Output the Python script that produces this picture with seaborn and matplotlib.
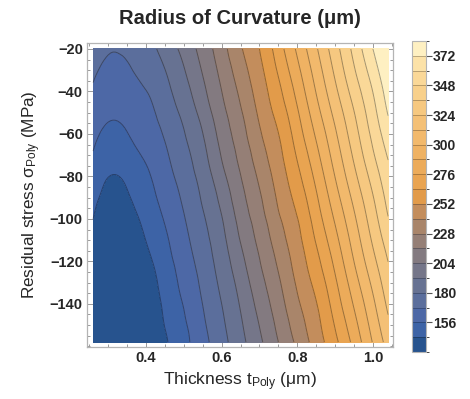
import numpy as np
import matplotlib
matplotlib.use("Agg")
import matplotlib.pyplot as plt
import matplotlib.tri as mtri
import seaborn as sns
from matplotlib.colors import ListedColormap, BoundaryNorm
from matplotlib.ticker import MultipleLocator, FixedLocator
import matplotlib.cm as cm

# ---------------- data ----------------
thickness = [0.26, 0.30, 0.35, 0.40, 0.45, 0.50, 0.55, 0.60, 0.65,
             0.70, 0.75, 0.80, 0.85, 0.90, 0.95, 1.00, 1.04]          # um
stress = [-20, -30, -40, -50, -60, -70, -80, -90, -100,
          -110, -120, -130, -140, -150, -158]                          # MPa
radius = [
    [174.0, 168.8, 170.1, 175.2, 184.5, 195.7, 208.7, 223.1, 238.7, 252.0, 270.2, 290.1, 310.5, 331.1, 351.5, 372.0, 388.0],
    [170.3, 165.1, 166.4, 172.4, 179.8, 191.2, 205.0, 219.5, 234.6, 248.7, 265.6, 284.8, 305.5, 326.4, 346.8, 366.1, 382.9],
    [166.5, 161.5, 162.8, 167.7, 176.4, 187.1, 201.1, 215.9, 230.5, 245.4, 260.9, 279.6, 300.6, 321.2, 341.2, 360.3, 377.8],
    [162.8, 157.8, 159.1, 164.1, 172.8, 183.0, 196.6, 212.2, 226.6, 242.1, 256.4, 274.5, 295.3, 315.6, 335.6, 355.8, 372.8],
    [159.0, 153.6, 155.6, 162.1, 169.1, 179.3, 191.8, 208.5, 222.9, 238.5, 251.8, 269.9, 289.8, 310.2, 330.9, 351.3, 367.1],
    [155.3, 148.9, 150.8, 158.0, 166.1, 176.2, 188.2, 204.8, 219.3, 234.4, 248.5, 265.3, 284.5, 305.3, 326.1, 346.5, 361.2],
    [151.5, 144.2, 146.1, 153.7, 163.1, 173.1, 184.8, 200.2, 215.7, 230.2, 245.2, 260.7, 279.3, 300.3, 320.8, 340.8, 356.4],
    [147.8, 140.2, 142.6, 150.9, 160.0, 170.0, 181.5, 195.5, 212.0, 226.3, 241.9, 256.1, 274.3, 294.9, 315.2, 335.3, 352.0],
    [144.0, 136.2, 138.6, 147.4, 156.9, 167.2, 178.5, 191.3, 208.3, 222.7, 238.2, 251.6, 269.7, 289.5, 309.9, 330.6, 347.4],
    [140.3, 132.2, 134.6, 144.2, 154.0, 164.5, 175.8, 188.3, 204.6, 219.1, 234.1, 248.3, 265.1, 284.2, 305.0, 325.8, 341.7],
    [136.5, 128.2, 130.6, 140.2, 151.3, 161.8, 173.2, 185.5, 200.4, 215.5, 230.0, 245.0, 260.4, 279.0, 300.1, 320.5, 336.1],
    [132.8, 124.2, 126.6, 136.3, 148.8, 159.2, 170.6, 182.7, 196.5, 211.8, 226.1, 241.7, 255.8, 274.0, 294.6, 314.9, 331.3],
    [129.0, 120.2, 122.6, 132.3, 146.6, 156.6, 168.2, 180.0, 193.1, 208.0, 222.5, 238.0, 251.4, 269.4, 289.2, 309.6, 326.6],
    [125.3, 116.2, 118.6, 128.3, 144.5, 154.4, 165.8, 177.7, 190.3, 204.3, 218.9, 233.9, 248.1, 264.8, 283.9, 304.7, 321.4],
    [122.3, 113.2, 115.6, 125.2, 141.8, 152.8, 163.9, 175.8, 188.3, 201.6, 216.0, 230.6, 245.5, 261.1, 279.7, 300.8, 316.9],
]

levels = [132, 144, 156, 168, 180, 192, 204, 216, 228, 240, 252, 264,
          276, 288, 300, 312, 324, 336, 348, 360, 372, 384]
cbar_ticks = [156, 180, 204, 228, 252, 276, 300, 324, 348, 372]
x_ticks = [0.4, 0.6, 0.8, 1.0]
y_ticks = [-140, -120, -100, -80, -60, -40, -20]

band_colors = ["#27538e", "#3d63a6", "#4d68a6", "#5b6e9c", "#677292",
               "#757689", "#837a80", "#957f76", "#a9856a", "#c38d5c",
               "#e29b4a", "#e9a451", "#ecab5a", "#efb263", "#f2b96c",
               "#f4c076", "#f6c880", "#f8d08b", "#fad898", "#fce2a8",
               "#fef0c2"]

# ---------------- style ----------------
sns.set_style("ticks")
plt.rcParams["font.family"] = ["Liberation Sans", "DejaVu Sans"]
plt.rcParams["mathtext.fontset"] = "custom"
plt.rcParams["mathtext.rm"] = "Liberation Sans"
plt.rcParams["mathtext.it"] = "Liberation Sans:italic"
plt.rcParams["mathtext.bf"] = "Liberation Sans:bold"

fig = plt.figure(figsize=(4.70, 3.99), dpi=100)
ax = fig.add_axes([87 / 470, 1 - 347 / 399, 306 / 470, 304 / 399])

palette = sns.color_palette(band_colors)
cmap = ListedColormap(palette)
cmap.set_under(palette[0])
cmap.set_over(palette[-1])
norm = BoundaryNorm(levels, cmap.N)

# smooth contouring of the read grid: triangulate in normalised units,
# let matplotlib's cubic refiner smooth the surface, then map back
X, Y = np.meshgrid(thickness, stress)
Z = np.array(radius)
t0, t1 = min(thickness), max(thickness)
s0, s1 = min(stress), max(stress)
xn = (X.ravel() - t0) / (t1 - t0)
yn = (Y.ravel() - s0) / (s1 - s0)
tri_n = mtri.Triangulation(xn, yn)
refiner = mtri.UniformTriRefiner(tri_n)
tri_r, z_r = refiner.refine_field(Z.ravel(), subdiv=3)
tri_d = mtri.Triangulation(t0 + tri_r.x * (t1 - t0),
                           s0 + tri_r.y * (s1 - s0), tri_r.triangles)

ax.tricontourf(tri_d, z_r, levels=levels, cmap=cmap, norm=norm, extend="both")
ax.tricontour(tri_d, z_r, levels=levels[1:-1], colors="black",
              linewidths=0.7, alpha=0.35)

ax.set_xlim(0.244, 1.053)
ax.set_ylim(-160.3, -17.2)
ax.xaxis.set_major_locator(FixedLocator(x_ticks))
ax.xaxis.set_minor_locator(MultipleLocator(0.05))
ax.yaxis.set_major_locator(FixedLocator(y_ticks))
ax.yaxis.set_minor_locator(MultipleLocator(5))
ax.set_xticklabels([f"{v:.1f}" for v in x_ticks])
ax.set_yticklabels([f"\u2212{abs(v)}" for v in y_ticks])
ax.tick_params(which="both", direction="in", top=True, right=True,
               color="#9a9a9a", width=0.7)
ax.tick_params(which="major", length=4, labelsize=10.5, pad=3)
ax.tick_params(which="minor", length=2)
for lab in ax.get_xticklabels() + ax.get_yticklabels():
    lab.set_fontweight("bold")
for sp in ax.spines.values():
    sp.set_color("#b4b4b4")
    sp.set_linewidth(0.9)

ax.set_xlabel(r"Thickness t$_{\mathrm{Poly}}$ (μm)", fontsize=12.5, labelpad=4)
ax.set_ylabel(r"Residual stress σ$_{\mathrm{Poly}}$ (MPa)", fontsize=12.3, labelpad=5)

fig.text(240 / 470, 1 - 18 / 399, "Radius of Curvature (μm)",
         ha="center", va="center", fontsize=14.5, fontweight="bold")

# ---------------- colour bar ----------------
cax = fig.add_axes([412 / 470, 1 - 352 / 399, 14 / 470, 311 / 399])
sm = cm.ScalarMappable(norm=norm, cmap=cmap)
cb = fig.colorbar(sm, cax=cax, ticks=cbar_ticks, spacing="uniform")
cb.outline.set_edgecolor("#b4b4b4")
cb.outline.set_linewidth(0.8)
for lv in levels[1:-1]:
    cax.axhline(lv, color="black", alpha=0.3, lw=0.6)
cax.tick_params(length=4, width=0.8, color="#555555", labelsize=10, pad=1)
for lab in cax.get_yticklabels():
    lab.set_fontweight("bold")

fig.savefig("out.png", dpi=100)
